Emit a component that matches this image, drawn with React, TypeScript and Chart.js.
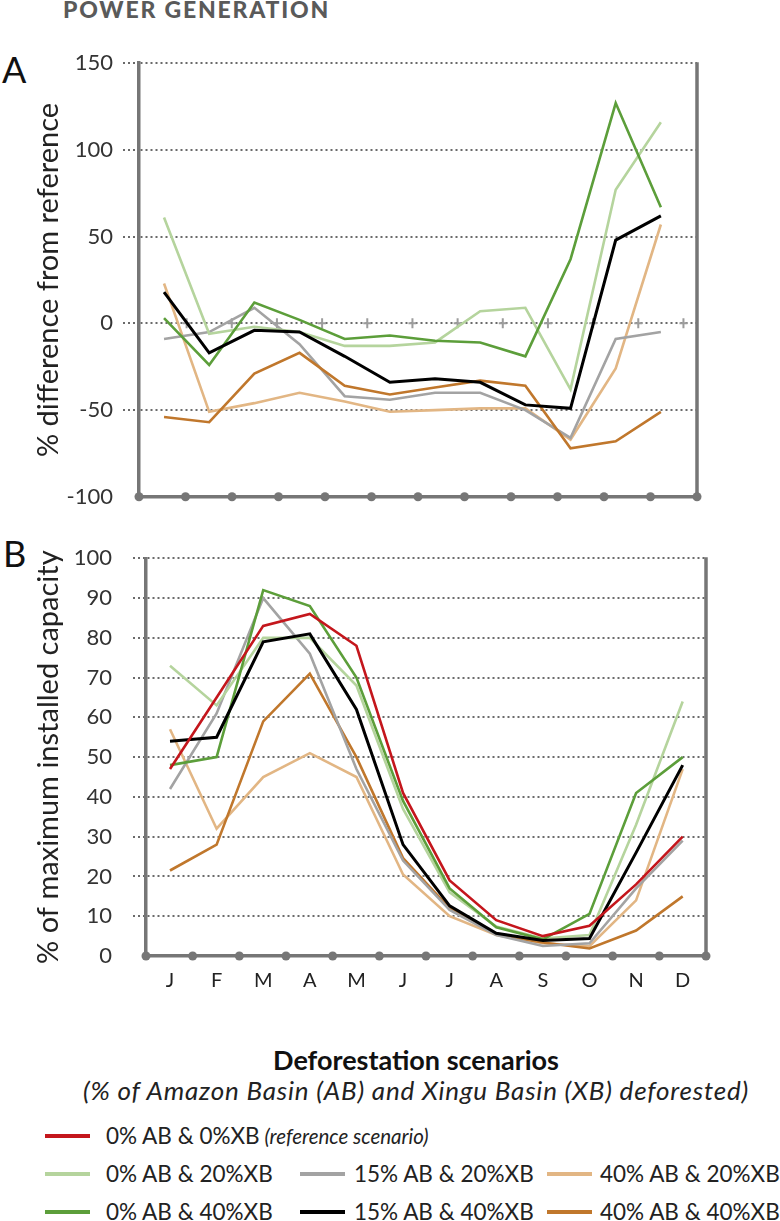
import React, { useEffect, useRef } from 'react';
import { Chart, registerables } from 'chart.js';

Chart.register(...registerables);

const FONT = 'Lato, "Open Sans", "DejaVu Sans", sans-serif';

const MONTHS = ['J', 'F', 'M', 'A', 'M', 'J', 'J', 'A', 'S', 'O', 'N', 'D'];

const LABEL_0_0 = '0% AB & 0%XB';
const LABEL_0_20 = '0% AB & 20%XB';
const LABEL_15_20 = '15% AB & 20%XB';
const LABEL_40_20 = '40% AB & 20%XB';
const LABEL_0_40 = '0% AB & 40%XB';
const LABEL_15_40 = '15% AB & 40%XB';
const LABEL_40_40 = '40% AB & 40%XB';

const COLOR_0_0 = '#c4161c';
const COLOR_0_20 = '#b5d49d';
const COLOR_15_20 = '#a3a3a3';
const COLOR_40_20 = '#e2b684';
const COLOR_0_40 = '#5c9e3a';
const COLOR_15_40 = '#000000';
const COLOR_40_40 = '#c0772c';

// Panel A: % difference from reference
const DIFF_0_20 = [61, -6, -2, -5, -13, -13, -11, 7, 9, -38, 77, 116];
const DIFF_15_20 = [-9, -5, 9, -12, -42, -44, -40, -40, -50, -66, -9, -5];
const DIFF_40_20 = [23, -51, -46, -40, -45, -51, -50, -49, -49, -67, -26, 57];
const DIFF_0_40 = [3, -24, 12, 2, -9, -7, -10, -11, -19, 37, 127, 67];
const DIFF_15_40 = [18, -17, -4, -5, -19, -34, -32, -34, -47, -49, 48, 62];
const DIFF_40_40 = [-54, -57, -29, -17, -36, -41, -37, -33, -36, -72, -68, -51];

// Panel B: % of maximum installed capacity
const CAP_0_0 = [47, 65, 83, 86, 78, 41, 19, 9, 5, 7.6, 18, 30];
const CAP_0_20 = [73, 63, 80, 80, 68, 37, 16, 7.4, 4.4, 5.3, 33, 64];
const CAP_15_20 = [42, 61, 90, 76, 47, 24, 11.6, 5.3, 2.5, 3.2, 17, 29];
const CAP_40_20 = [57, 32, 45, 51, 45, 20.5, 10, 5.3, 3.2, 2.5, 14, 47];
const CAP_0_40 = [48, 50, 92, 88, 70, 39, 17, 7.2, 4.2, 10.6, 41, 50];
const CAP_15_40 = [54, 55, 79, 81, 62, 28, 12.6, 5.7, 3.9, 4.4, 26, 48];
const CAP_40_40 = [21.5, 28, 59, 71, 50, 24.6, 12, 5.4, 3.4, 1.9, 6.4, 15];

const A_TICKS = { min: -100, max: 150, step: 50 };
const B_TICKS = { min: 0, max: 100, step: 10 };
const PLUS_POSITIONS = [0.5, 1.5, 2.5, 3.5, 4.5, 5.5, 6.5, 7.5, 8.5, 9.5, 10.5, 11.5];

const AXIS_GRAY = '#767676';
const GRID_GRAY = '#6a6a6a';

function series(values: number[]) {
  return values.map((y, i) => ({ x: i, y }));
}

function ds(label: string, color: string, values: number[], width = 2.6) {
  return {
    label,
    data: series(values),
    borderColor: color,
    backgroundColor: color,
    borderWidth: width,
    pointRadius: 0,
    tension: 0,
    fill: false,
  };
}

const decorPlugin = {
  id: 'decor',
  beforeDatasetsDraw(chart: any, _args: any, opts: any) {
    const { ctx, chartArea: a, scales } = chart;
    ctx.save();
    ctx.strokeStyle = AXIS_GRAY;
    ctx.lineWidth = 3.5;
    ctx.beginPath();
    ctx.moveTo(a.right, a.top - 1);
    ctx.lineTo(a.right, a.bottom);
    ctx.stroke();
    if (opts && opts.plus) {
      const y0 = scales.y.getPixelForValue(0);
      ctx.strokeStyle = '#9c9c9c';
      ctx.lineWidth = 2;
      PLUS_POSITIONS.forEach((v) => {
        const x = scales.x.getPixelForValue(v);
        ctx.beginPath();
        ctx.moveTo(x, y0 - 5);
        ctx.lineTo(x, y0 + 5);
        ctx.moveTo(x - 4, y0);
        ctx.lineTo(x + 4, y0);
        ctx.stroke();
      });
    }
    ctx.fillStyle = AXIS_GRAY;
    for (let k = 0; k <= 12; k++) {
      const x = a.left + (k * (a.right - a.left)) / 12;
      ctx.beginPath();
      ctx.arc(x, a.bottom, 4.5, 0, Math.PI * 2);
      ctx.fill();
    }
    ctx.restore();
  },
};

function yAxis(cfg: any) {
  const hide = (c: any) => (c.tick && c.tick.value === cfg.min ? 'rgba(0,0,0,0)' : GRID_GRAY);
  return {
    type: 'linear',
    min: cfg.min,
    max: cfg.max,
    ticks: {
      stepSize: cfg.step,
      color: '#333',
      font: { family: FONT, size: 22 },
      padding: cfg.labelPad,
    },
    grid: {
      color: hide,
      tickColor: hide,
      lineWidth: 2,
      tickWidth: 2,
      tickLength: cfg.tickLength,
      tickBorderDash: [2, 3],
      drawTicks: true,
    },
    border: { display: true, color: AXIS_GRAY, width: 3.5, dash: [2, 3] },
    title: {
      display: true,
      text: cfg.title,
      color: '#222',
      font: { family: FONT, size: 29 },
      padding: { top: 31, bottom: 0 },
    },
    afterFit: (s: any) => {
      s.width = cfg.width;
    },
  };
}

function LineChart(props: { kind: 'A' | 'B'; top: number; height: number }) {
  const ref = useRef<HTMLCanvasElement | null>(null);
  useEffect(() => {
    if (!ref.current) return;
    const isA = props.kind === 'A';
    const datasets = isA
      ? [
          ds(LABEL_15_40, COLOR_15_40, DIFF_15_40, 3),
          ds(LABEL_0_40, COLOR_0_40, DIFF_0_40),
          ds(LABEL_0_20, COLOR_0_20, DIFF_0_20),
          ds(LABEL_40_40, COLOR_40_40, DIFF_40_40),
          ds(LABEL_15_20, COLOR_15_20, DIFF_15_20),
          ds(LABEL_40_20, COLOR_40_20, DIFF_40_20),
        ]
      : [
          ds(LABEL_0_0, COLOR_0_0, CAP_0_0),
          ds(LABEL_15_40, COLOR_15_40, CAP_15_40, 3),
          ds(LABEL_0_40, COLOR_0_40, CAP_0_40),
          ds(LABEL_0_20, COLOR_0_20, CAP_0_20),
          ds(LABEL_15_20, COLOR_15_20, CAP_15_20),
          ds(LABEL_40_40, COLOR_40_40, CAP_40_40),
          ds(LABEL_40_20, COLOR_40_20, CAP_40_20),
        ];

    const xAxis: any = isA
      ? {
          type: 'linear',
          min: -0.554,
          max: 11.8,
          ticks: { display: false },
          grid: { display: false, drawTicks: false },
          border: { display: true, color: AXIS_GRAY, width: 3.5 },
          afterFit: (s: any) => {
            s.height = 0;
          },
        }
      : {
          type: 'linear',
          min: -0.515,
          max: 11.5,
          afterBuildTicks: (s: any) => {
            s.ticks = MONTHS.map((_, i) => ({ value: i }));
          },
          ticks: {
            color: '#222',
            font: { family: FONT, size: 20 },
            padding: 13,
            autoSkip: false,
            maxRotation: 0,
            callback: (_v: any, i: number) => MONTHS[i],
          },
          grid: { display: false, drawTicks: false },
          border: { display: true, color: AXIS_GRAY, width: 3.5 },
          afterFit: (s: any) => {
            s.height = 44;
          },
        };

    const yCfg = isA
      ? { ...A_TICKS, labelPad: 10, tickLength: 16, width: 139, title: '% difference from reference' }
      : { ...B_TICKS, labelPad: 21, tickLength: 13, width: 146, title: '% of maximum installed capacity' };

    const chart = new Chart(ref.current, {
      type: 'line',
      data: { datasets } as any,
      options: {
        responsive: false,
        animation: false,
        layout: {
          autoPadding: false,
          padding: isA
            ? { top: 20.7, bottom: 21.7, left: 0, right: 83 }
            : { top: 38.3, bottom: 0, left: 0, right: 74 },
        },
        plugins: {
          legend: { display: false },
          tooltip: { enabled: false },
          decor: { plus: isA },
        } as any,
        scales: {
          x: xAxis,
          y: yAxis(yCfg) as any,
        },
      } as any,
      plugins: [decorPlugin as any],
    });
    return () => chart.destroy();
  }, [props.kind]);

  return (
    <canvas
      ref={ref}
      width={780}
      height={props.height}
      style={{ position: 'absolute', left: 0, top: props.top, width: 780, height: props.height, display: 'block' }}
    />
  );
}

function LegendItem(props: { x: number; gap: number; y: number; color: string; label: string; note?: string }) {
  const fs = 22.5;
  return (
    <>
      <div
        style={{
          position: 'absolute',
          left: props.x,
          top: props.y - 1.75,
          width: 45,
          height: 3.5,
          background: props.color,
        }}
      />
      <div
        style={{
          position: 'absolute',
          left: props.x + 45 + props.gap,
          top: props.y + 9 - 0.887 * fs,
          fontFamily: FONT,
          fontSize: fs,
          lineHeight: `${fs}px`,
          color: '#222',
          whiteSpace: 'nowrap',
        }}
      >
        {props.label}
        {props.note ? (
          <span style={{ fontStyle: 'italic', fontSize: 20.5 }}> {props.note}</span>
        ) : null}
      </div>
    </>
  );
}

export default function App() {
  return (
    <div
      style={{
        position: 'absolute',
        left: 0,
        top: 0,
        width: 780,
        height: 1221,
        background: '#fff',
        overflow: 'hidden',
        fontFamily: FONT,
      }}
    >
      <div
        style={{
          position: 'absolute',
          left: 63,
          top: 18 - 0.887 * 23,
          fontSize: 23,
          lineHeight: '23px',
          fontWeight: 900,
          letterSpacing: 1.8,
          color: '#5a5a5a',
          whiteSpace: 'nowrap',
        }}
      >
        POWER GENERATION
      </div>
      <div style={{ position: 'absolute', left: 2, top: 51, fontSize: 36, lineHeight: '36px', color: '#111' }}>A</div>
      <div style={{ position: 'absolute', left: 3, top: 535, fontSize: 36, lineHeight: '36px', color: '#111' }}>B</div>

      <LineChart kind="A" top={40} height={480} />
      <LineChart kind="B" top={520} height={480} />

      <div
        style={{
          position: 'absolute',
          left: 0,
          width: 832,
          textAlign: 'center',
          top: 1070 - 0.887 * 27,
          fontSize: 27,
          lineHeight: '27px',
          fontWeight: 700,
          color: '#111',
          whiteSpace: 'nowrap',
        }}
      >
        Deforestation scenarios
      </div>
      <div
        style={{
          position: 'absolute',
          left: 0,
          width: 832,
          textAlign: 'center',
          top: 1100 - 0.887 * 26,
          fontSize: 26,
          lineHeight: '26px',
          fontStyle: 'italic',
          letterSpacing: 0.8,
          color: '#222',
          whiteSpace: 'nowrap',
        }}
      >
        (% of Amazon Basin (AB) and Xingu Basin (XB) deforested)
      </div>

      <LegendItem x={45} gap={16} y={1136} color={COLOR_0_0} label={LABEL_0_0} note="(reference scenario)" />
      <LegendItem x={45} gap={16} y={1174} color={COLOR_0_20} label={LABEL_0_20} />
      <LegendItem x={300} gap={9} y={1174} color={COLOR_15_20} label={LABEL_15_20} />
      <LegendItem x={547} gap={8} y={1174} color={COLOR_40_20} label={LABEL_40_20} />
      <LegendItem x={45} gap={16} y={1212} color={COLOR_0_40} label={LABEL_0_40} />
      <LegendItem x={300} gap={9} y={1212} color={COLOR_15_40} label={LABEL_15_40} />
      <LegendItem x={547} gap={8} y={1212} color={COLOR_40_40} label={LABEL_40_40} />
    </div>
  );
}
